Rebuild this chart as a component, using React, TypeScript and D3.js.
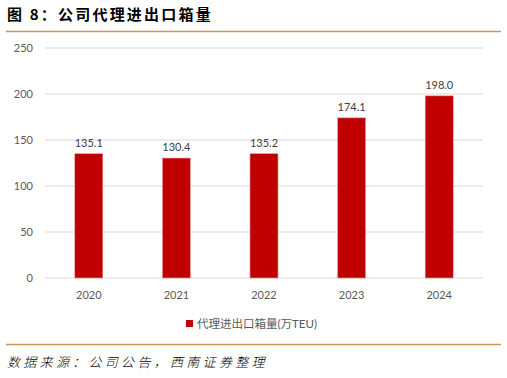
import React from "react";
import * as d3 from "d3";

const years = ["2020", "2021", "2022", "2023", "2024"];
const volumes = [135.1, 130.4, 135.2, 174.1, 198.0];
const yTicks = [0, 50, 100, 150, 200, 250];
const title = "图 8：公司代理进出口箱量";
const seriesName = "代理进出口箱量(万TEU)";
const source = "数据来源：公司公告，西南证券整理";

export default function App() {
  const W = 507, H = 378;
  const x = d3.scaleBand<string>().domain(years).range([45, 483]).paddingInner(0.68).paddingOuter(0.34);
  const y = d3.scaleLinear().domain([0, 250]).range([278, 48]);
  const font = "Lato, 'Noto Sans', 'Noto Sans CJK SC', sans-serif";
  return (
    <svg width={W} height={H} style={{ position: "absolute", left: 0, top: 0, background: "#fff" }}>
      <text x={7} y={20} fontSize={15} fontWeight="bold" fill="#000" fontFamily="'Noto Sans CJK SC', sans-serif" letterSpacing={2.2}>
        {title}
      </text>
      <line x1={6} x2={501} y1={31.5} y2={31.5} stroke="#C9965C" strokeWidth={1.3} />
      {yTicks.map((t) => (
        <g key={t}>
          <line x1={45} x2={483} y1={y(t)} y2={y(t)} stroke="#D9D9D9" strokeWidth={1} />
          <text x={33} y={y(t) + 4} textAnchor="end" fontSize={11} fill="#595959" fontFamily={font}>{t}</text>
        </g>
      ))}
      {years.map((yr, i) => (
        <g key={yr}>
          <rect x={x(yr)!} y={y(volumes[i])} width={x.bandwidth()} height={y(0) - y(volumes[i])} fill="#C00000" stroke="#E8A0A0" strokeWidth={0.6} />
          <text x={x(yr)! + x.bandwidth() / 2} y={y(volumes[i]) - 7} textAnchor="middle" fontSize={11} fill="#404040" fontFamily={font}>
            {volumes[i].toFixed(1)}
          </text>
          <text x={x(yr)! + x.bandwidth() / 2} y={299} textAnchor="middle" fontSize={11} fill="#595959" fontFamily={font}>{yr}</text>
        </g>
      ))}
      <rect x={186} y={320} width={7} height={7} fill="#C00000" />
      <text x={197} y={328} fontSize={11.5} fill="#595959" fontFamily={font}>{seriesName}</text>
      <line x1={6} x2={501} y1={344.5} y2={344.5} stroke="#C9965C" strokeWidth={1.3} />
      <text x={7} y={367} fontSize={13} fontStyle="italic" fill="#000" fontFamily="'Noto Sans CJK SC', sans-serif" fontWeight={300} letterSpacing={3.3}>
        {source}
      </text>
    </svg>
  );
}
